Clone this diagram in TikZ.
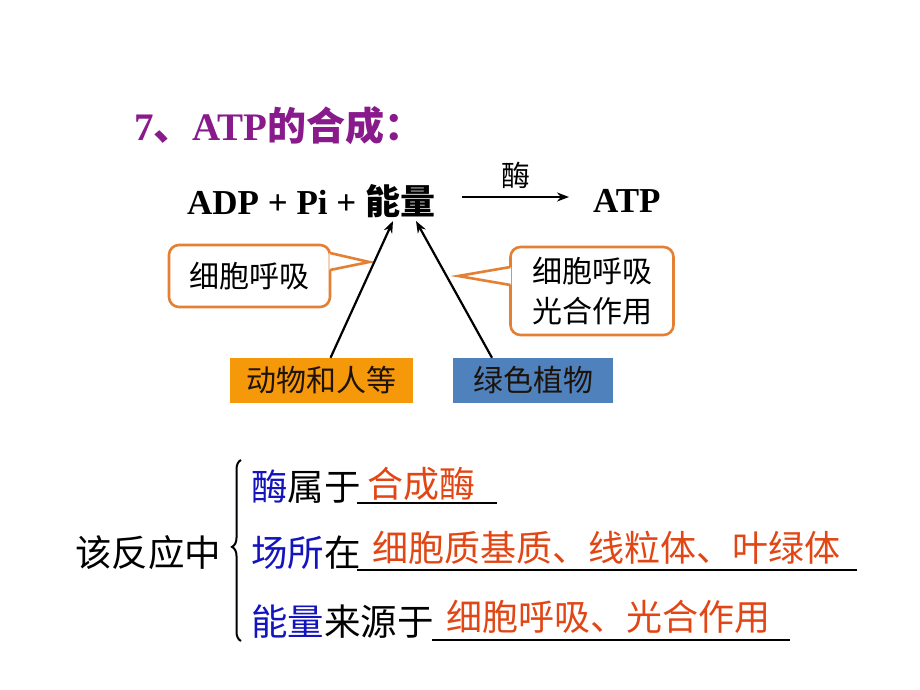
\documentclass[tikz,border=0pt]{standalone}
\usepackage{fontspec}
\setmainfont{Liberation Serif}
\newfontfamily\cjk{Noto Sans CJK SC}
\usetikzlibrary{arrows.meta,calc,decorations.pathreplacing}
\definecolor{titlepurple}{RGB}{136,26,140}
\definecolor{callorange}{RGB}{228,128,52}
\definecolor{boxorange}{RGB}{245,152,10}
\definecolor{boxblue}{RGB}{79,129,189}
\definecolor{keyblue}{RGB}{20,20,190}
\definecolor{answerred}{RGB}{226,70,20}
\begin{document}
\begin{tikzpicture}[x=1pt,y=-1pt,
  callout/.style={draw=callorange,line width=2.6pt,rounded corners=10pt,fill=white,
    font=\cjk\fontsize{30}{40}\selectfont,align=center,inner sep=0pt},
  tagbox/.style={minimum height=45pt,inner sep=0pt,font=\cjk\fontsize{30}{34}\selectfont,text=black!85!brown},
  link/.style={line width=2.2pt,-{Stealth[length=12pt,width=9pt]}},
  plain/.style={font=\cjk\fontsize{36.5}{40}\selectfont,inner sep=0pt},
  answer/.style={font=\cjk\fontsize{36}{40}\selectfont,text=answerred,inner sep=0pt},
  blank/.style={line width=2.6pt}]
\fill[white] (0,0) rectangle (920,690);
\useasboundingbox (0,0) rectangle (920,690);

% title
\node[anchor=west,text=titlepurple,font=\fontsize{39}{44}\selectfont\bfseries,inner sep=0pt] (title) at (134,126)
  {7{\cjk\bfseries 、}ATP{\cjk\bfseries 的合成：}};

% equation
\node[anchor=west,font=\fontsize{35}{40}\selectfont\bfseries,inner sep=0pt] (lhs) at (187,201)
  {ADP + Pi + {\cjk\bfseries 能量}};
\node[anchor=west,font=\fontsize{35}{40}\selectfont\bfseries,inner sep=0pt] (atp) at (593,201) {ATP};
\coordinate (r1) at (462,197);
\coordinate (r2) at (569,197);
\draw[line width=2.5pt,-{Stealth[length=12pt,width=9pt]}] (r1) -- (r2)
  node[midway,above=7pt,font=\cjk\fontsize{29}{32}\selectfont,inner sep=0pt] (enz) {酶};

% callouts
\node[callout,minimum width=161pt,minimum height=62pt] (cl) at (249.5,276) {细胞呼吸};
\fill[white] ($(cl.east)+(-2,-23)$) -- ($(cl.east)+(38,-14)$) -- ($(cl.east)+(-2,-6)$) -- cycle;
\draw[callorange,line width=2.6pt,line join=miter] ($(cl.east)+(-1.3,-23)$) -- ($(cl.east)+(38,-14)$) -- ($(cl.east)+(-1.3,-6)$);

\node[callout,minimum width=163pt,minimum height=88pt] (cr) at (592,291) {细胞呼吸\\光合作用};
\fill[white] ($(cr.west)+(2,-24)$) -- ($(cr.west)+(-51,-15)$) -- ($(cr.west)+(2,-6)$) -- cycle;
\draw[callorange,line width=2.6pt,line join=miter] ($(cr.west)+(1.3,-24)$) -- ($(cr.west)+(-51,-15)$) -- ($(cr.west)+(1.3,-6)$);

% source boxes
\node[tagbox,fill=boxorange,minimum width=183pt] (animal) at (321.5,380.5) {动物和人等};
\node[tagbox,fill=boxblue,minimum width=160pt] (plant) at (533,380.5) {绿色植物};

\coordinate (e1) at (393,221);
\coordinate (e2) at (416,221);
\draw[link] ($(animal.north)+(9,0)$) -- (e1);
\draw[link] ($(plant.north)+(-41,0)$) -- (e2);

% bottom summary
\node[plain,anchor=west] (react) at (75,553) {该反应中};
\draw[line width=2pt,decorate,decoration={brace,amplitude=9pt,aspect=0.52}] (241,641) -- (241,460);

\node[plain,anchor=west] (q1) at (251,487) {{\color{keyblue}酶}属于};
\coordinate (u1a) at (357,503);
\coordinate (u1b) at (497,503);
\draw[blank] (u1a) -- (u1b);
\node[answer,anchor=west] (a1) at (367,484) {合成酶};

\node[plain,anchor=west] (q2) at (251,553) {{\color{keyblue}场所}在};
\coordinate (u2a) at (357,570);
\coordinate (u2b) at (857,570);
\draw[blank] (u2a) -- (u2b);
\node[answer,anchor=west] (a2) at (372,548) {细胞质基质、线粒体、叶绿体};

\node[plain,anchor=west] (q3) at (251,622) {{\color{keyblue}能量}来源于};
\coordinate (u3a) at (432,640);
\coordinate (u3b) at (790,640);
\draw[blank] (u3a) -- (u3b);
\node[answer,anchor=west] (a3) at (446,617) {细胞呼吸、光合作用};
\end{tikzpicture}
\end{document}
